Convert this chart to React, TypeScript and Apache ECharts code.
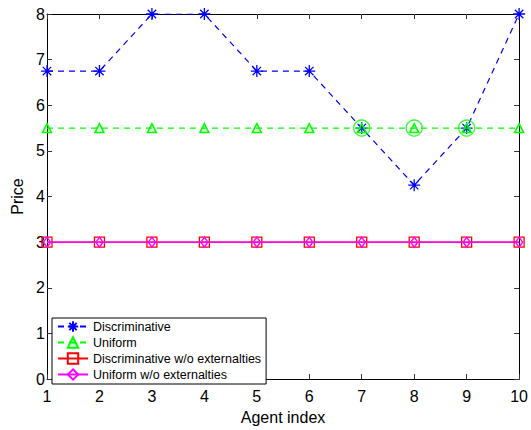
import React, { useEffect, useRef } from "react";
import * as echarts from "echarts";

const agents = [1, 2, 3, 4, 5, 6, 7, 8, 9, 10];
const discriminative = [6.75, 6.75, 8, 8, 6.75, 6.75, 5.5, 4.25, 5.5, 8];
const uniform = [5.5, 5.5, 5.5, 5.5, 5.5, 5.5, 5.5, 5.5, 5.5, 5.5];
const discrNoExt = [3, 3, 3, 3, 3, 3, 3, 3, 3, 3];
const uniformNoExt = [3, 3, 3, 3, 3, 3, 3, 3, 3, 3];
const circledAgents = [7, 8, 9];
const circledPrices = [5.5, 5.5, 5.5];

const FONT = "'Liberation Sans', Arial, sans-serif";
const ASTERISK = "path://M5,0L5,10M0,5L10,5M1.5,1.5L8.5,8.5M1.5,8.5L8.5,1.5";

const pairs = (xs: number[], ys: number[]) => xs.map((x, i) => [x, ys[i]]);

export default function App() {
  const ref = useRef<HTMLDivElement>(null);
  useEffect(() => {
    if (!ref.current) return;
    const chart = echarts.init(ref.current, undefined, { renderer: "svg" });
    const tickStyle = { show: true, inside: true, length: 5, lineStyle: { color: "#333", width: 1 } };
    chart.setOption({
      animation: false,
      backgroundColor: "#fff",
      textStyle: { fontFamily: FONT },
      grid: { left: 47, right: 8, top: 14, bottom: 42, containLabel: false },
      legend: {
        orient: "vertical",
        left: 52,
        top: 318,
        padding: [2, 5, 3, 5],
        itemGap: 3,
        itemWidth: 30,
        itemHeight: 13,
        borderColor: "#000",
        borderWidth: 1,
        backgroundColor: "#fff",
        textStyle: { fontFamily: FONT, fontSize: 12.5, color: "#000" },
        data: ["Discriminative", "Uniform", "Discriminative w/o externalties", "Uniform w/o externalties"],
      },
      xAxis: [
        {
          type: "value",
          min: 1,
          max: 10,
          interval: 1,
          name: "Agent index",
          nameLocation: "middle",
          nameGap: 28,
          nameTextStyle: { fontFamily: FONT, fontSize: 16, color: "#000" },
          axisLine: { show: true, lineStyle: { color: "#000", width: 1 } },
          axisTick: tickStyle,
          axisLabel: { fontFamily: FONT, fontSize: 16, color: "#000", margin: 9 },
          splitLine: { show: false },
        },
        {
          type: "value",
          position: "top",
          min: 1,
          max: 10,
          interval: 1,
          axisLine: { show: true, onZero: false, lineStyle: { color: "#000", width: 1 } },
          axisTick: tickStyle,
          axisLabel: { show: false },
          splitLine: { show: false },
        },
      ],
      yAxis: [
        {
          type: "value",
          min: 0,
          max: 8,
          interval: 1,
          name: "Price",
          nameLocation: "middle",
          nameGap: 21,
          nameTextStyle: { fontFamily: FONT, fontSize: 16, color: "#000" },
          axisLine: { show: true, lineStyle: { color: "#000", width: 1 } },
          axisTick: tickStyle,
          axisLabel: { fontFamily: FONT, fontSize: 16, color: "#000", margin: 2 },
          splitLine: { show: false },
        },
        {
          type: "value",
          position: "right",
          min: 0,
          max: 8,
          interval: 1,
          axisLine: { show: true, onZero: false, lineStyle: { color: "#000", width: 1 } },
          axisTick: tickStyle,
          axisLabel: { show: false },
          splitLine: { show: false },
        },
      ],
      series: [
        {
          name: "Discriminative",
          type: "line",
          data: pairs(agents, discriminative),
          symbol: ASTERISK,
          symbolSize: 12,
          lineStyle: { color: "#0000ff", width: 1.2, type: [6, 5] },
          itemStyle: { color: "#0000ff", borderColor: "#0000ff", borderWidth: 1.3 },
          z: 2,
        },
        {
          name: "Uniform",
          type: "line",
          data: pairs(agents, uniform),
          symbol: "triangle",
          symbolSize: 9,
          lineStyle: { color: "#00ff00", width: 1.2, type: [6, 5] },
          itemStyle: { color: "rgba(0,255,0,0.15)", borderColor: "#00ff00", borderWidth: 1.5 },
          z: 3,
        },
        {
          name: "Discriminative w/o externalties",
          type: "line",
          data: pairs(agents, discrNoExt),
          symbol: "rect",
          symbolSize: 10,
          lineStyle: { color: "#ff0000", width: 1.2 },
          itemStyle: { color: "rgba(255,0,0,0)", borderColor: "#ff0000", borderWidth: 1.3 },
          z: 4,
        },
        {
          name: "Uniform w/o externalties",
          type: "line",
          data: pairs(agents, uniformNoExt),
          symbol: "diamond",
          symbolSize: [7, 10],
          lineStyle: { color: "#ff00ff", width: 1.5 },
          itemStyle: { color: "rgba(255,0,255,0)", borderColor: "#ff00ff", borderWidth: 1.5 },
          z: 5,
        },
        {
          name: "circled",
          type: "scatter",
          data: pairs(circledAgents, circledPrices),
          symbol: "circle",
          symbolSize: 16,
          itemStyle: { color: "rgba(0,255,0,0)", borderColor: "#00ff00", borderWidth: 1.3 },
          z: 6,
        },
      ],
    });
    return () => chart.dispose();
  }, []);
  return <div ref={ref} style={{ width: 531, height: 430, position: "fixed", left: 0, top: 0 }} />;
}
